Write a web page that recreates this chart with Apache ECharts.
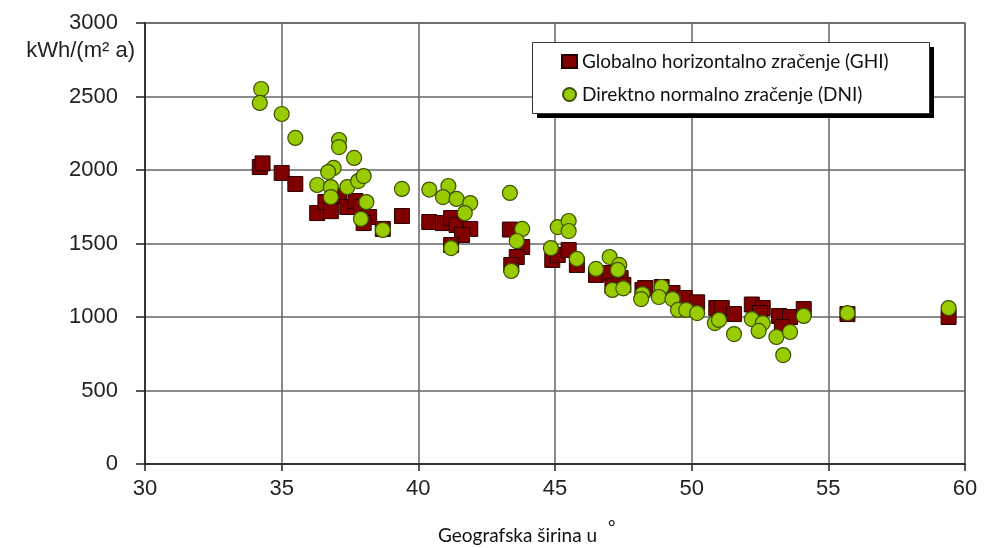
<!DOCTYPE html>
<html><head><meta charset="utf-8">
<script src="https://cdn.jsdelivr.net/npm/echarts@6/dist/echarts.min.js"></script>
<style>html,body{margin:0;padding:0;background:#fff}#c{width:985px;height:548px}</style>
</head><body><div id="c"></div>
<script>
var xTicks = [30, 35, 40, 45, 50, 55, 60];
var yTicks = [0, 500, 1000, 1500, 2000, 2500, 3000];
var unitLabel = 'kWh/(m² a)';
var xTitle = 'Geografska širina u';
var ghiName = 'Globalno horizontalno zračenje (GHI)';
var dniName = 'Direktno normalno zračenje (DNI)';
var ghi = [[34.2,2020],[34.3,2045],[35.0,1980],[35.5,1905],[36.3,1707],[36.6,1782],[36.8,1720],[37.1,1823],[37.4,1748],[37.7,1789],[37.9,1748],[38.2,1680],[38.0,1639],[38.7,1599],[39.4,1687],[40.4,1646],[40.9,1639],[41.2,1673],[41.4,1626],[41.9,1599],[41.6,1558],[41.2,1490],[43.35,1595],[43.8,1476],[43.6,1408],[43.4,1354],[44.9,1388],[45.1,1422],[45.5,1456],[45.8,1354],[46.5,1286],[47.0,1299],[47.1,1211],[47.4,1265],[47.5,1218],[48.2,1184],[48.3,1197],[48.9,1204],[49.3,1163],[49.75,1129],[50.2,1100],[50.9,1061],[51.1,1061],[51.55,1020],[52.2,1085],[52.6,1061],[52.5,1027],[53.2,1007],[53.6,1000],[53.3,932],[54.1,1054],[55.7,1020],[59.4,1000]];
var dni = [[34.25,2551],[34.2,2456],[35.0,2381],[35.5,2218],[37.1,2204],[37.1,2156],[37.65,2082],[36.9,2014],[36.7,1986],[36.3,1898],[36.8,1884],[37.4,1884],[37.8,1925],[38.0,1959],[36.8,1816],[38.1,1782],[37.9,1667],[38.7,1592],[39.4,1871],[40.4,1867],[41.1,1891],[40.9,1816],[41.4,1803],[41.9,1775],[41.7,1707],[41.2,1469],[43.35,1844],[43.8,1599],[43.6,1517],[43.4,1313],[45.1,1612],[45.5,1653],[45.5,1585],[44.85,1469],[45.8,1395],[46.5,1327],[47.0,1408],[47.35,1354],[47.3,1320],[47.1,1184],[47.5,1195],[48.2,1156],[48.15,1122],[48.9,1204],[48.8,1136],[49.3,1122],[49.5,1048],[49.8,1048],[50.2,1027],[50.85,959],[51.0,980],[51.55,884],[52.2,986],[52.6,959],[52.45,905],[53.1,864],[53.35,741],[53.6,898],[54.1,1007],[55.7,1027],[59.4,1061]];

var chart = echarts.init(document.getElementById('c'));
var axisFont = {fontFamily:'Liberation Sans', fontSize:22, color:'#222', formatter:function(v){return String(v);}};
chart.setOption({
  animation:false,
  grid:{left:145, right:20, top:23, bottom:84, show:true, borderColor:'#666', borderWidth:1.5},
  xAxis:{type:'value', min:xTicks[0], max:xTicks[xTicks.length-1], interval:5,
    axisLine:{show:true, onZero:false, lineStyle:{color:'#222', width:1.5}},
    axisTick:{show:true, length:7, lineStyle:{color:'#222', width:1.5}},
    axisLabel:Object.assign({margin:14}, axisFont),
    splitLine:{show:true, lineStyle:{color:'#666', width:1.5}}},
  yAxis:{type:'value', min:yTicks[0], max:yTicks[yTicks.length-1], interval:500,
    axisLine:{show:true, lineStyle:{color:'#222', width:1.5}},
    axisTick:{show:true, length:9, lineStyle:{color:'#222', width:1.5}},
    axisLabel:Object.assign({margin:27}, axisFont),
    splitLine:{show:true, lineStyle:{color:'#666', width:1.5}}},
  legend:{orient:'vertical', left:561, top:51, itemGap:12, itemWidth:15, itemHeight:13, z:20, padding:0,
    textStyle:{fontFamily:'Lato', fontSize:19, lineHeight:21, color:'#111'},
    data:[{name:ghiName, icon:'rect'},{name:dniName, icon:'circle'}]},
  graphic:[
    {type:'rect', left:537, top:47, z:5, shape:{width:397, height:71}, style:{fill:'#000'}},
    {type:'rect', left:532, top:42, z:6, shape:{width:397, height:71},
      style:{fill:'#fff', stroke:'#333', lineWidth:1}},
    {type:'text', right:850, top:40, z:10, style:{text:unitLabel, fontFamily:'Liberation Sans', fontSize:22, fill:'#222', textAlign:'right'}},
    {type:'text', left:438, top:526, z:10, style:{text:xTitle, fontFamily:'Lato', fontSize:19, fill:'#111'}},
    {type:'text', left:608, top:518, z:10, style:{text:'°', fontFamily:'Lato', fontSize:18, fill:'#111'}}
  ],
  series:[
    {name:ghiName, type:'scatter', symbol:'rect', symbolSize:15, data:ghi, z:3,
      itemStyle:{color:'#800000', borderColor:'#2a0000', borderWidth:1, opacity:1}},
    {name:dniName, type:'scatter', symbol:'circle', symbolSize:15, data:dni, z:4,
      itemStyle:{color:'#99cc00', borderColor:'#3d5200', borderWidth:1.2, opacity:1}}
  ]
});
</script></body></html>
